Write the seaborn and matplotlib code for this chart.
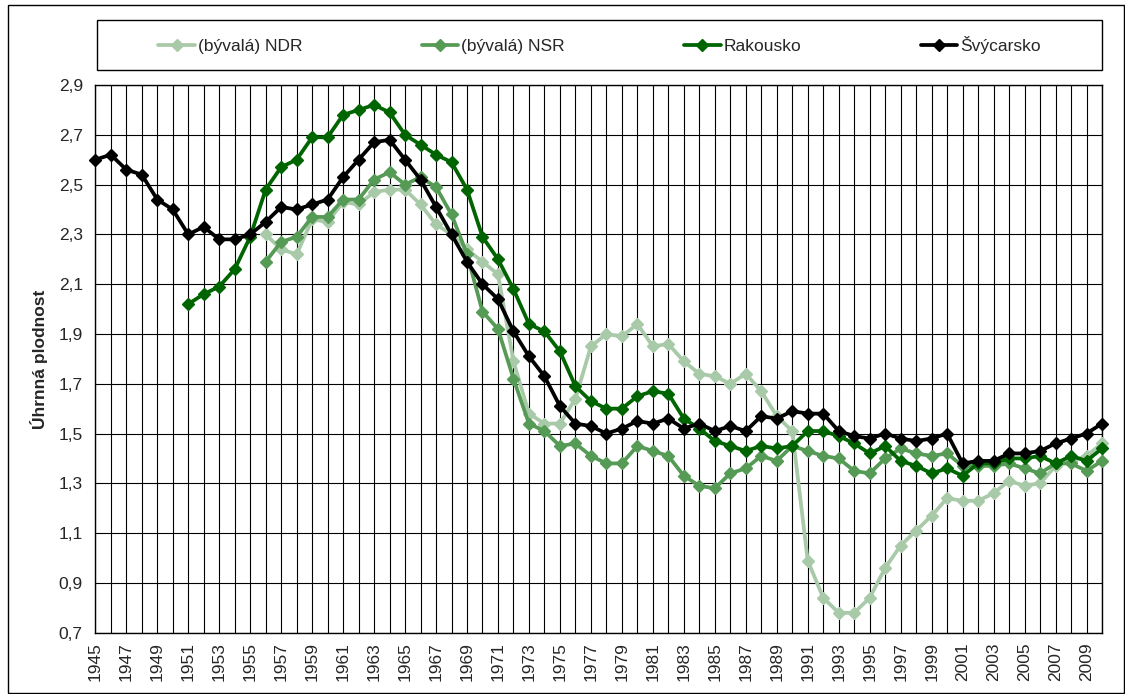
import numpy as np
import pandas as pd
import matplotlib
matplotlib.use("Agg")
import matplotlib.pyplot as plt
import seaborn as sns
from matplotlib.lines import Line2D
from matplotlib.patches import Rectangle
from matplotlib.ticker import FuncFormatter

# Total fertility rate by country, one list per series (first year + values)
series_names = ["(bývalá) NDR", "(bývalá) NSR", "Rakousko", "Švýcarsko"]
series_colors = ["#a9caa9", "#559a55", "#006400", "#000000"]

ndr_start = 1956
ndr = [2.30, 2.24, 2.22, 2.36, 2.35, 2.43, 2.42, 2.47, 2.48, 2.48,
       2.42, 2.34, 2.30, 2.24, 2.19, 2.14, 1.79, 1.58, 1.54, 1.54,
       1.64, 1.85, 1.90, 1.89, 1.94, 1.85, 1.86, 1.79, 1.74, 1.73,
       1.70, 1.74, 1.67, 1.57, 1.51, 0.99, 0.84, 0.78, 0.78, 0.84,
       0.96, 1.05, 1.11, 1.17, 1.24, 1.23, 1.23, 1.26, 1.31, 1.29,
       1.30, 1.37, 1.39, 1.41, 1.46]

nsr_start = 1956
nsr = [2.19, 2.27, 2.29, 2.37, 2.37, 2.44, 2.44, 2.52, 2.55, 2.50,
       2.53, 2.49, 2.38, 2.22, 1.99, 1.92, 1.72, 1.54, 1.51, 1.45,
       1.46, 1.41, 1.38, 1.38, 1.45, 1.43, 1.41, 1.33, 1.29, 1.28,
       1.34, 1.36, 1.41, 1.39, 1.45, 1.43, 1.41, 1.40, 1.35, 1.34,
       1.40, 1.44, 1.42, 1.41, 1.42, 1.37, 1.37, 1.37, 1.38, 1.36,
       1.34, 1.38, 1.38, 1.35, 1.39]

aut_start = 1951
aut = [2.02, 2.06, 2.09, 2.16, 2.29, 2.48, 2.57, 2.60, 2.69, 2.69,
       2.78, 2.80, 2.82, 2.79, 2.70, 2.66, 2.62, 2.59, 2.48, 2.29,
       2.20, 2.08, 1.94, 1.91, 1.83, 1.69, 1.63, 1.60, 1.60, 1.65,
       1.67, 1.66, 1.56, 1.52, 1.47, 1.45, 1.43, 1.45, 1.44, 1.45,
       1.51, 1.51, 1.49, 1.46, 1.42, 1.45, 1.39, 1.37, 1.34, 1.36,
       1.33, 1.38, 1.38, 1.40, 1.40, 1.41, 1.38, 1.41, 1.39, 1.44]

sui_start = 1945
sui = [2.60, 2.62, 2.56, 2.54, 2.44, 2.40, 2.30, 2.33, 2.28, 2.28,
       2.30, 2.35, 2.41, 2.40, 2.42, 2.44, 2.53, 2.60, 2.67, 2.68,
       2.60, 2.52, 2.41, 2.30, 2.19, 2.10, 2.04, 1.91, 1.81, 1.73,
       1.61, 1.54, 1.53, 1.50, 1.52, 1.55, 1.54, 1.56, 1.52, 1.54,
       1.51, 1.53, 1.51, 1.57, 1.56, 1.59, 1.58, 1.58, 1.51, 1.49,
       1.48, 1.50, 1.48, 1.47, 1.48, 1.50, 1.38, 1.39, 1.39, 1.42,
       1.42, 1.43, 1.46, 1.48, 1.50, 1.54]

year_first, year_last = 1945, 2010
y_ticks = [0.7, 0.9, 1.1, 1.3, 1.5, 1.7, 1.9, 2.1, 2.3, 2.5, 2.7, 2.9]

frames = []
for name, start, vals in zip(series_names,
                             [ndr_start, nsr_start, aut_start, sui_start],
                             [ndr, nsr, aut, sui]):
    frames.append(pd.DataFrame({"rok": np.arange(start, start + len(vals)),
                                "tfr": vals, "zeme": name}))
df = pd.concat(frames, ignore_index=True)

sns.set_theme(style="white")
plt.rcParams["font.family"] = ["Liberation Sans", "DejaVu Sans"]
FS = 12.5

W, H = 1125, 694
fig = plt.figure(figsize=(W / 100, H / 100), dpi=100)
fig.patch.set_facecolor("white")

ax_l, ax_r, ax_t, ax_b = 95.3, 1102.0, 85.0, 632.7
ax = fig.add_axes([ax_l / W, 1 - ax_b / H, (ax_r - ax_l) / W, (ax_b - ax_t) / H])

for name, color in zip(series_names, series_colors):
    sub = df[df["zeme"] == name]
    sns.lineplot(data=sub, x="rok", y="tfr", ax=ax, color=color,
                 linewidth=2.7, marker="D", markersize=6.6,
                 markeredgecolor=color, markeredgewidth=1.0,
                 legend=False, zorder=3, clip_on=False)

years = np.arange(year_first, year_last + 1)
ax.set_xlim(year_first, year_last)
ax.set_ylim(y_ticks[0], y_ticks[-1])
ax.set_xticks(years)
ax.set_xticklabels([str(y) if (y - year_first) % 2 == 0 else "" for y in years],
                   rotation=90, fontsize=FS)
ax.set_yticks(y_ticks)
ax.yaxis.set_major_formatter(FuncFormatter(lambda v, _: f"{v:.1f}".replace(".", ",")))
ax.tick_params(axis="y", labelsize=FS, length=0, pad=9)
ax.tick_params(axis="x", direction="out", length=4, width=0.8, color="black", pad=3)
ax.grid(True, color="black", linewidth=0.8, zorder=0)
ax.set_axisbelow(True)
for sp in ax.spines.values():
    sp.set_color("black")
    sp.set_linewidth(1.0)
ax.set_xlabel("")
ax.set_ylabel("Úhrnná plodnost", fontsize=FS, fontweight="bold")
ax.yaxis.set_label_coords((48 - ax_l) / (ax_r - ax_l), 0.5)

# Legend box above the plot area
fig.patches.append(Rectangle((97 / W, 1 - 70 / H), (1102 - 97) / W, 50 / H,
                             transform=fig.transFigure, facecolor="white",
                             edgecolor="black", linewidth=1.0))
handles = [Line2D([], [], color=c, linewidth=2.7, marker="D", markersize=6.6,
                  markeredgecolor=c) for c in series_colors]
fig.legend(handles, series_names, loc="center",
           bbox_to_anchor=((97 + 1102) / 2 / W, 1 - 45 / H), ncol=4,
           frameon=False, fontsize=FS, handlelength=2.1, handletextpad=0.15,
           columnspacing=6.9)

# Outer chart frame
fig.patches.append(Rectangle((8 / W, 1 / H), (W - 9) / W, (H - 6) / H,
                             transform=fig.transFigure, facecolor="none",
                             edgecolor="black", linewidth=1.0))

fig.savefig("out.png", dpi=100)
